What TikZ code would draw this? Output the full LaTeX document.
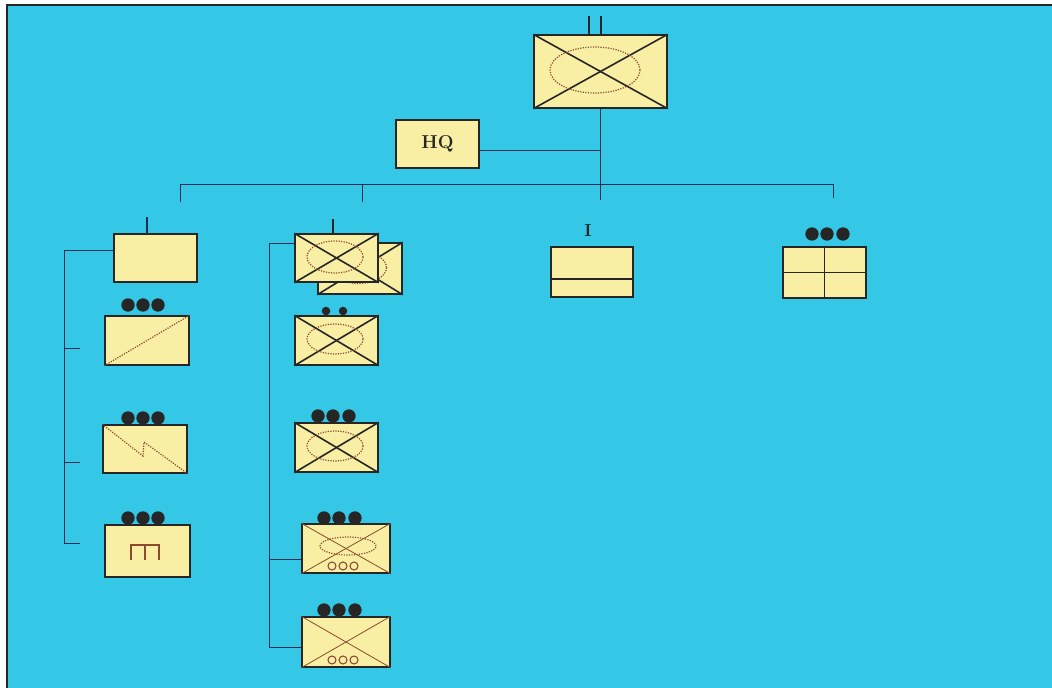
\documentclass[tikz,border=0pt]{standalone}
\definecolor{bg}{HTML}{34C7E6}
\definecolor{boxfill}{HTML}{F8EEA4}
\definecolor{ink}{HTML}{262626}
\definecolor{brn}{HTML}{8A4A30}
\definecolor{wire}{HTML}{1E2E55}
\begin{document}
\begin{tikzpicture}[x=0.75pt,y=-0.75pt,
  unitbox/.style 2 args={draw=ink, fill=boxfill, line width=1.1pt, inner sep=0pt,
     minimum width=#1*0.75pt, minimum height=#2*0.75pt},
  xline/.style={draw=ink, line width=1.2pt},
  thinx/.style={draw=brn, line width=0.6pt},
  ell/.style={draw=brn, densely dotted, line width=0.9pt},
  wire/.style={draw=wire, line width=0.7pt},
  blob/.style={fill=ink},
  echmark/.style={draw=ink, line width=2.2pt}]
% background and frame
\useasboundingbox (0,0) rectangle (1052,688);
\fill[white] (0,0) rectangle (1052,688);
\fill[bg] (7,5) rectangle (1052,688);
\draw[ink, line width=1.5pt] (7,688) -- (7,5) -- (1052,5);

% ---------- top: division ----------
\node[unitbox={133}{73}] (div) at (600.5,71.5) {};
\draw[xline] (div.north west) -- (div.south east);
\draw[xline] (div.north east) -- (div.south west);
\draw[ell] (595,70) ellipse [x radius=45*0.75pt, y radius=23*0.75pt];
\draw[echmark] (589,16) -- (589,35);
\draw[echmark] (601,16) -- (601,35);

% ---------- HQ ----------
\node[unitbox={83}{48}, font=\fontsize{14}{16}\selectfont\bfseries, text=ink] (hq) at (437.5,144) {HQ};

% connectors top
\coordinate (busL) at (180,184);
\coordinate (busR) at (833,184);
\coordinate (trunk) at (div.south |- busL);
\coordinate (hqp) at ([yshift=-5pt]hq.east);
\draw[wire] (div.south) -- (trunk);
\draw[wire] (hqp) -- (div.south |- hqp);
\draw[wire] (180,202) -- (busL) -- (busR) -- (833,198);
\draw[wire] (362,184) -- (362,202);
\draw[wire] (600,184) -- (600,200);

% ---------- left column ----------
\node[unitbox={83}{48}] (L1) at (155.5,258) {};
\draw[wire, line width=0.9pt] (147,217) -- (147,234);

\node[unitbox={84}{49}] (L2) at (147,340.5) {};
\draw[brn, densely dotted, line width=0.9pt] (L2.south west) -- (L2.north east);
\foreach \xx in {128,143,158} \fill[blob] (\xx,305) circle (5pt);

\node[unitbox={84}{48}] (L3) at (145,449) {};
\draw[brn, densely dotted, line width=0.9pt] (L3.north west) -- (143,456) -- (144,442) -- (L3.south east);
\foreach \xx in {128,143,158} \fill[blob] (\xx,418) circle (5pt);

\node[unitbox={85}{52}] (L4) at (147.5,551) {};
\draw[brn, line width=1.1pt] (131,560) -- (131,545) -- (159,545) -- (159,560);
\draw[brn, line width=1.1pt] (145,545) -- (145,560);
\foreach \xx in {128,143,158} \fill[blob] (\xx,518) circle (5pt);

\coordinate (lbot) at (64,543);
\draw[wire] ([yshift=6pt]L1.west) -| (lbot) -- (80,543);
\draw[wire] (64,348) -- (80,348);
\draw[wire] (64,462) -- (80,462);

% ---------- second column ----------
\node[unitbox={84}{51}] (C1b) at (360,268.5) {};
\draw[xline] (C1b.north west) -- (C1b.south east);
\draw[xline] (C1b.north east) -- (C1b.south west);
\draw[ell] (358.5,267.5) ellipse [x radius=28*0.75pt, y radius=16*0.75pt];
\node[unitbox={83}{48}] (C1) at (336.5,258) {};
\draw[xline] (C1.north west) -- (C1.south east);
\draw[xline] (C1.north east) -- (C1.south west);
\draw[ell] (335,257) ellipse [x radius=28*0.75pt, y radius=16*0.75pt];
\draw[ink, line width=1.6pt] (333,219) -- (333,234);

\node[unitbox={83}{49}] (C2) at (336.5,340.5) {};
\draw[xline] (C2.north west) -- (C2.south east);
\draw[xline] (C2.north east) -- (C2.south west);
\draw[ell] (335,339) ellipse [x radius=28*0.75pt, y radius=15*0.75pt];
\foreach \xx in {326,343} \fill[blob] (\xx,311) circle (3.2pt);

\node[unitbox={83}{49}] (C3) at (336.5,447.5) {};
\draw[xline] (C3.north west) -- (C3.south east);
\draw[xline] (C3.north east) -- (C3.south west);
\draw[ell] (335,446) ellipse [x radius=28*0.75pt, y radius=15*0.75pt];
\foreach \xx in {318,333,349} \fill[blob] (\xx,416) circle (5pt);

\node[unitbox={88}{49}] (C4) at (346,548.5) {};
\draw[thinx] (C4.north west) -- (C4.south east);
\draw[thinx] (C4.north east) -- (C4.south west);
\draw[ell] (348,546) ellipse [x radius=28*0.75pt, y radius=9*0.75pt];
\foreach \xx in {332,343,354} \draw[brn, line width=0.8pt] (\xx,566) circle (3pt);
\foreach \xx in {324,339,355} \fill[blob] (\xx,518) circle (5pt);

\node[unitbox={88}{50}] (C5) at (346,642) {};
\draw[thinx] (C5.north west) -- (C5.south east);
\draw[thinx] (C5.north east) -- (C5.south west);
\foreach \xx in {332,343,354} \draw[brn, line width=0.8pt] (\xx,660) circle (3pt);
\foreach \xx in {324,339,355} \fill[blob] (\xx,610) circle (5pt);

\coordinate (cbot) at (269,647);
\coordinate (cmid) at (269,559);
\draw[wire] ([yshift=11.25pt]C1.west) -| (cbot) -- (C5.west |- cbot);
\draw[wire] (cmid) -- (C4.west |- cmid);

% ---------- third: I ----------
\node[unitbox={82}{50}] (R1) at (592,272) {};
\coordinate (rl) at (0,279);
\draw[ink, line width=1.1pt] (R1.west |- rl) -- (R1.east |- rl);
\node[font=\fontsize{13}{14}\selectfont\bfseries, text=ink, inner sep=0pt] (lblI) at (588,231) {I};

% ---------- fourth ----------
\node[unitbox={83}{51}] (R2) at (824.5,272.5) {};
\draw[ink, line width=1.1pt] (R2.north) -- (R2.south);
\draw[ink, line width=1.1pt] (R2.west) -- (R2.east);
\foreach \xx in {812,827,843} \fill[blob] (\xx,234) circle (5pt);
\end{tikzpicture}
\end{document}
